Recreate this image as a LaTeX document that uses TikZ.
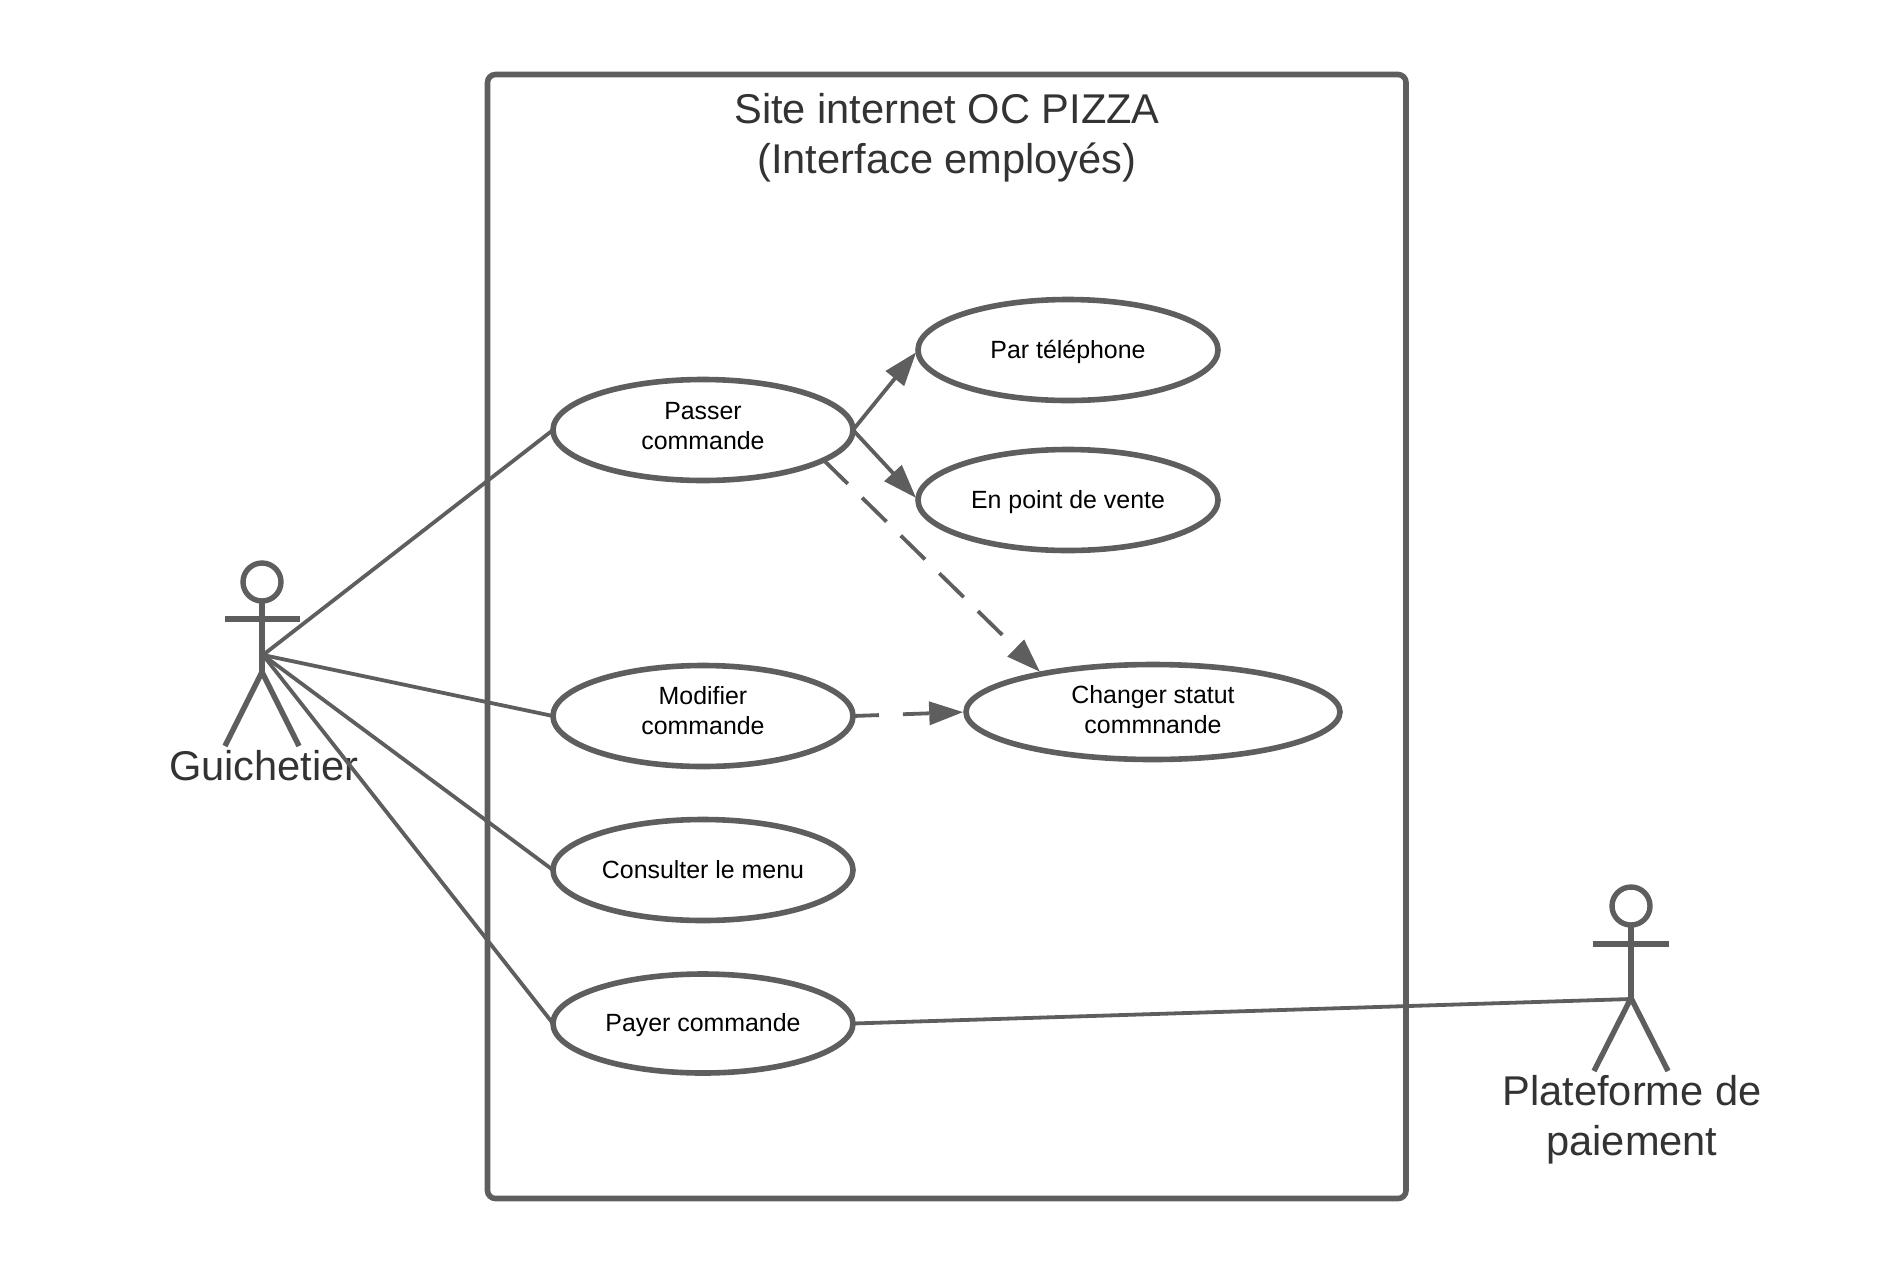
\documentclass[tikz,border=0pt]{standalone}
\usepackage{fontspec}
\setmainfont{Liberation Sans}
\usetikzlibrary{arrows.meta,shapes.geometric}
\definecolor{linegrey}{HTML}{5E5E5E}
\definecolor{textgrey}{HTML}{333333}
\newcommand\liftby[1]{\rule[-#1]{0pt}{#1}}
\newcommand\dropby[1]{\rule{0pt}{#1}}
\tikzset{
  usecase/.style={ellipse,draw=linegrey,line width=2.8pt,fill=white,inner sep=0pt,outer sep=0pt,minimum width=150pt,minimum height=50.5pt,align=center,text=black,font=\fontsize{12.45pt}{15pt}\selectfont},
  wide/.style={minimum width=187pt,minimum height=47.5pt},
  sysbox/.style={draw=linegrey,line width=2.8pt,rounded corners=4pt},
  label/.style={align=center,text=textgrey,inner sep=0pt,font=\fontsize{20.8pt}{25pt}\selectfont},
  limb/.style={draw=linegrey,line width=2.7pt},
  assoc/.style={draw=linegrey,line width=1.9pt},
  flow/.style={assoc,shorten >=1.4pt,-{Triangle[length=17pt,width=11.5pt]}},
  flowdash/.style={flow,dash pattern=on 17pt off 10pt},
  flowdashshort/.style={flow,dash pattern=on 13pt off 12pt}
}
\begin{document}
\begin{tikzpicture}[x=0.5pt,y=-0.5pt]
\useasboundingbox (0,0) rectangle (1896,1275);
% system boundary
\draw[sysbox] (487.5,74.5) rectangle (1406,1198.5);
\node[label] (title) at (947,137.5) {Site internet OC PIZZA\\(Interface employés)};
% actor: Guichetier
\node[circle,draw=linegrey,line width=2.7pt,minimum size=19pt,inner sep=0pt,outer sep=0pt] (head1) at (262,582) {};
\coordinate (arml1) at (225,619);
\coordinate (armr1) at (300,619);
\coordinate (hip1) at (262,672);
\coordinate (joint1) at (263,655);
\coordinate (footl1) at (225,746);
\coordinate (footr1) at (299,746);
\draw[limb] (head1.south) -- (hip1);
\draw[limb] (arml1) -- (armr1);
\draw[limb] (footl1) -- (hip1) -- (footr1);
\node[label] (guichetier) at (264,766) {Guichetier};
% actor: Plateforme
\node[circle,draw=linegrey,line width=2.7pt,minimum size=19pt,inner sep=0pt,outer sep=0pt] (head2) at (1631,906) {};
\coordinate (arml2) at (1593,944);
\coordinate (armr2) at (1669,944);
\coordinate (hip2) at (1631,998);
\coordinate (joint2) at (1631,999);
\coordinate (footl2) at (1594,1071);
\coordinate (footr2) at (1668,1071);
\draw[limb] (head2.south) -- (hip2);
\draw[limb] (arml2) -- (armr2);
\draw[limb] (footl2) -- (hip2) -- (footr2);
\node[label] (plateforme) at (1632,1120) {Plateforme de\\paiement};
% use cases
\node[usecase] (passer) at (703,430) {Passer\\commande\liftby{3.6pt}};
\node[usecase] (tel) at (1068,350) {\dropby{11pt}Par téléphone};
\node[usecase] (vente) at (1068,500) {\dropby{11pt}En point de vente};
\node[usecase,wide] (statut) at (1153,712) {Changer statut\\commnande\liftby{3pt}};
\node[usecase] (modifier) at (703,716) {Modifier\\commande\liftby{6pt}};
\node[usecase] (menu) at (703,870) {Consulter le menu};
\node[usecase,minimum height=49.5pt] (payer) at (703,1023.5) {\dropby{10.6pt}Payer commande};
% associations
\draw[assoc] (joint1) -- (passer.west);
\draw[assoc] (joint1) -- (modifier.west);
\draw[assoc] (joint1) -- (menu.west);
\draw[assoc] (joint1) -- (payer.west);
\draw[assoc] (payer.east) -- (joint2);
% relations
\draw[flow] (passer.east) -- (tel.west);
\draw[flow] (passer.east) -- (vente.west);
\draw[flowdash] (passer.-14.5) -- (statut.161.8);
\draw[flowdashshort] (modifier.east) -- (statut.west);
\end{tikzpicture}
\end{document}
